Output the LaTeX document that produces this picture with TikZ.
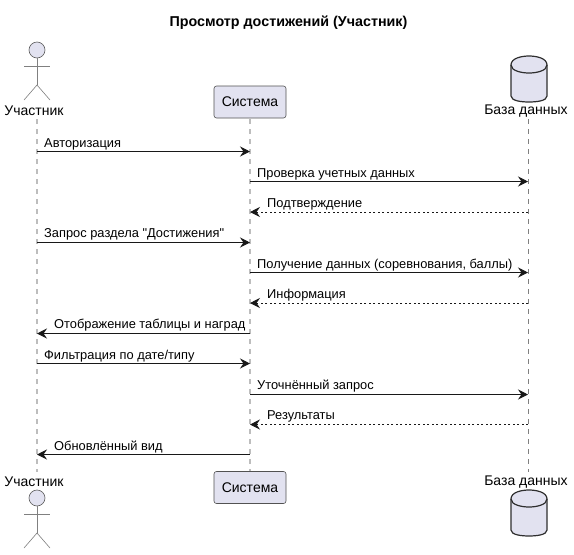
\documentclass[tikz,border=0pt]{standalone}
\usepackage{fontspec}
\setmainfont{Liberation Sans}[Ligatures=TeXOff]
\usetikzlibrary{arrows.meta,calc}
\definecolor{partfill}{HTML}{E2E2F0}
\definecolor{partline}{HTML}{181818}
\definecolor{lifeline}{HTML}{BDBDBD}
\definecolor{lifelinedark}{HTML}{808080}
\definecolor{msgline}{HTML}{181818}
\tikzset{
  x=1pt,y=-1pt,
  titlelabel/.style={font=\bfseries\fontsize{14.3}{16}\selectfont,text=black,inner sep=0pt},
  partlabel/.style={font=\fontsize{14}{16}\selectfont,text=black,inner sep=0pt},
  msglabel/.style={font=\fontsize{12.85}{15}\selectfont,text=black,inner sep=0pt,anchor=base west},
  sysbox/.style={draw=partline!75,fill=partfill,rounded corners=2.5pt,line width=.6pt,minimum width=72pt,minimum height=32pt,inner sep=0pt,font=\fontsize{14}{16}\selectfont},
  lifedash/.style={draw=lifeline,line width=1.1pt,dash pattern=on 5pt off 5pt},
  lifedashthin/.style={draw=lifelinedark,line width=.8pt,dash pattern=on 5pt off 5pt},
  actorline/.style={draw=partline!55,line width=.6pt},
  actorhead/.style={draw=partline!70,fill=partfill,line width=.6pt},
  dbshape/.style={draw=partline!90,fill=partfill,line width=1.2pt},
  syncmsg/.style={draw=msgline,line width=1pt,-{Stealth[length=10pt,width=10pt,inset=3.5pt]}},
  retmsg/.style={draw=msgline,line width=.9pt,dash pattern=on 2pt off 2.5pt,-{Stealth[length=10pt,width=10pt,inset=3.5pt]}},
}
\newcommand{\drawactor}[1]{%
  \path[actorhead] (37,#1) circle (8);
  \draw[actorline] (37,#1+8) -- (37,#1+35);
  \draw[actorline] (24,#1+16) -- (50,#1+16);
  \draw[actorline] (24,#1+50) -- (37,#1+35) -- (50,#1+50);
}
\newcommand{\drawdb}[2]{% top, bottom
  \path[dbshape] (511,#1+9) -- (511,#2-6) .. controls (511,#2-1) and (522,#2) .. (529,#2) .. controls (536,#2) and (547,#2-1) .. (547,#2-6) -- (547,#1+9) .. controls (547,#1+2) and (536,#1) .. (529,#1) .. controls (522,#1) and (511,#1+2) .. (511,#1+9) -- cycle;
  \draw[dbshape,fill=none] (511,#1+9) .. controls (511,#1+15) and (522,#1+17) .. (529,#1+17) .. controls (536,#1+17) and (547,#1+15) .. (547,#1+9);
}
\begin{document}
\begin{tikzpicture}
\useasboundingbox (0,0) rectangle (574,555);
\fill[white] (0,0) rectangle (574,555);
\node[titlelabel] (title) at (288.5,23) {Просмотр достижений (Участник)};

% lifeline anchors
\coordinate (utop) at (37,119);
\coordinate (ubot) at (37,472);
\coordinate (stop) at (250,119);
\coordinate (sbot) at (250,472);
\coordinate (dtop) at (528,119);
\coordinate (dbot) at (528,472);
\draw[lifedash] (utop) -- (ubot);
\draw[lifedash] (stop) -- (sbot);
\draw[lifedashthin] (dtop) -- (dbot);

% head
\drawactor{50}
\node[partlabel] (ulabel) at (34,111) {Участник};
\node[sysbox] (sys1) at (250,102) {Система};
\drawdb{56}{102}
\node[partlabel] (dlabel) at (526,111) {База данных};

% foot
\node[partlabel] (ulabelb) at (34,482) {Участник};
\drawactor{498}
\node[sysbox] (sys2) at (250,487.5) {Система};
\node[partlabel] (dlabelb) at (526,482) {База данных};
\drawdb{490}{536}

% messages
\foreach \n/\y in {1/151.5,2/181.5,3/212,4/242.5,5/272.5,6/303,7/333.5,8/363.5,9/394.5,10/424.5,11/454.5}
  \coordinate (m\n) at (0,\y);

\draw[syncmsg] (utop |- m1) -- (stop |- m1);
\node[msglabel] (t1) at (44,147) {Авторизация};
\draw[syncmsg] (stop |- m2) -- (dtop |- m2);
\node[msglabel] (t2) at (257,177) {Проверка учетных данных};
\draw[retmsg] (dtop |- m3) -- (stop |- m3);
\node[msglabel] (t3) at (267,207) {Подтверждение};
\draw[syncmsg] (utop |- m4) -- (stop |- m4);
\node[msglabel] (t4) at (44,237) {Запрос раздела "Достижения"};
\draw[syncmsg] (stop |- m5) -- (dtop |- m5);
\node[msglabel] (t5) at (257,268) {Получение данных (соревнования, баллы)};
\draw[retmsg] (dtop |- m6) -- (stop |- m6);
\node[msglabel] (t6) at (267,298) {Информация};
\draw[syncmsg] (stop |- m7) -- (utop |- m7);
\node[msglabel] (t7) at (54,328) {Отображение таблицы и наград};
\draw[syncmsg] (utop |- m8) -- (stop |- m8);
\node[msglabel] (t8) at (44,359) {Фильтрация по дате/типу};
\draw[syncmsg] (stop |- m9) -- (dtop |- m9);
\node[msglabel] (t9) at (257,389) {Уточнённый запрос};
\draw[retmsg] (dtop |- m10) -- (stop |- m10);
\node[msglabel] (t10) at (267,419) {Результаты};
\draw[syncmsg] (stop |- m11) -- (utop |- m11);
\node[msglabel] (t11) at (54,450) {Обновлённый вид};
\end{tikzpicture}
\end{document}
